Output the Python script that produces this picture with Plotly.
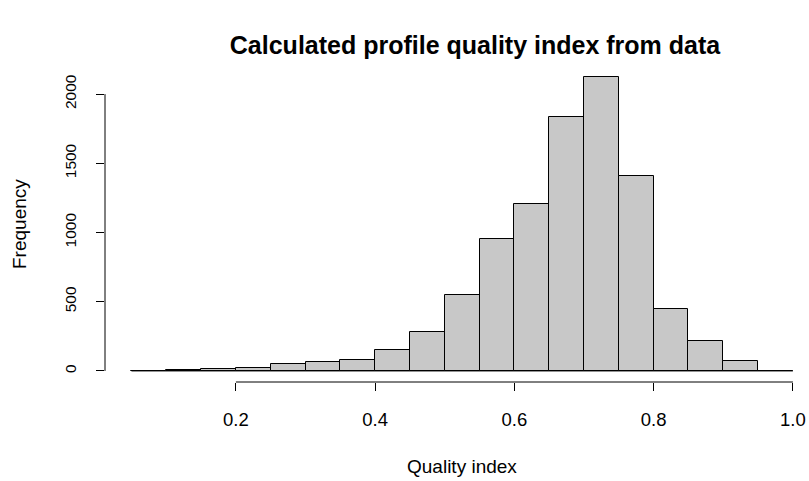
import plotly.graph_objects as go

breaks = [0.05, 0.10, 0.15, 0.20, 0.25, 0.30, 0.35, 0.40, 0.45, 0.50,
          0.55, 0.60, 0.65, 0.70, 0.75, 0.80, 0.85, 0.90, 0.95, 1.00]
counts = [2, 8, 15, 18, 48, 63, 79, 154, 282, 552,
          956, 1209, 1834, 2123, 1408, 445, 217, 72, 0]
x_ticks = [0.2, 0.4, 0.6, 0.8, 1.0]
x_tick_labels = ["0.2", "0.4", "0.6", "0.8", "1.0"]
y_ticks = [0, 500, 1000, 1500, 2000]
y_tick_labels = ["0", "500", "1000", "1500", "2000"]

centers = [(a + b) / 2 for a, b in zip(breaks[:-1], breaks[1:])]
widths = [b - a for a, b in zip(breaks[:-1], breaks[1:])]

font = "Liberation Sans, Arial, Helvetica, sans-serif"
W, H = 809, 481
ML, MR, MT, MB = 105, 0, 66, 99
PW, PH = W - ML - MR, H - MT - MB

fig = go.Figure()
fig.add_trace(go.Scatter(x=[breaks[0], breaks[-1]], y=[0, 0], mode="lines",
                         line=dict(color="black", width=1), hoverinfo="skip",
                         showlegend=False))
fig.add_trace(go.Bar(x=centers, y=counts, width=widths,
                     marker=dict(color="#C8C8C8", line=dict(color="black", width=1)),
                     showlegend=False))

fig.update_layout(
    width=W, height=H,
    margin=dict(l=ML, r=MR, t=MT, b=MB, autoexpand=False),
    paper_bgcolor="white", plot_bgcolor="white",
    font=dict(family=font, size=18, color="black"),
    title=dict(text="<b>Calculated profile quality index from data</b>",
               x=475 / W, xref="container", xanchor="center",
               y=1 - 45 / H, yref="container", yanchor="middle",
               font=dict(size=25, family=font, color="black")),
    bargap=0,
    xaxis=dict(range=[0.012, 1.0231], tickvals=x_ticks, ticktext=x_tick_labels,
               ticks="outside", ticklen=8, tickcolor="black", tickwidth=1,
               ticklabelstandoff=13,
               showline=False, showgrid=False, zeroline=False,
               tickfont=dict(size=18.5)),
    yaxis=dict(range=[-80, 2203], tickvals=y_ticks, ticktext=y_tick_labels,
               ticks="outside", ticklen=8, tickcolor="black", tickwidth=1,
               tickangle=-90, ticklabelstandoff=14,
               showline=False, showgrid=False, zeroline=False,
               tickfont=dict(size=15.5)),
    shapes=[
        dict(type="line", xref="x", yref="paper", x0=x_ticks[0], x1=x_ticks[-1],
             y0=0, y1=0, line=dict(color="black", width=1)),
        dict(type="line", xref="paper", yref="y", x0=0, x1=0,
             y0=y_ticks[0], y1=y_ticks[-1], line=dict(color="black", width=1)),
    ],
    annotations=[
        dict(text="Quality index", xref="paper", yref="paper",
             x=(462 - ML) / PW, y=(H - MB - 466) / PH,
             xanchor="center", yanchor="middle", showarrow=False,
             font=dict(size=19, family=font, color="black")),
        dict(text="Frequency", xref="paper", yref="paper",
             x=(19 - ML) / PW, y=0.5, textangle=-90,
             xanchor="center", yanchor="middle", showarrow=False,
             font=dict(size=19, family=font, color="black")),
    ],
)

fig.write_html("out.html", config={"displayModeBar": False},
               post_script="document.body.style.margin='0px';")
